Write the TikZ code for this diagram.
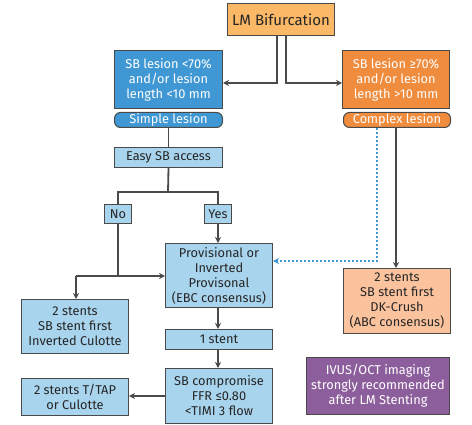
\documentclass[tikz,border=0pt]{standalone}
\usepackage{fontspec}
\setmainfont{Fira Sans}
\usetikzlibrary{arrows.meta,positioning}
\definecolor{lmorange}{HTML}{FBB867}
\definecolor{dblue}{HTML}{3F98D4}
\definecolor{dorange}{HTML}{F08C3E}
\definecolor{lblue}{HTML}{A9D4EE}
\definecolor{lorange}{HTML}{FAC39E}
\definecolor{purp}{HTML}{8D5E9C}
\definecolor{edge}{HTML}{4A4A4A}
\tikzset{
  box/.style={draw=edge, line width=1pt, align=center, inner sep=0pt, anchor=north west, font=\fontsize{12.8}{15}\selectfont, text=black!85},
  conn/.style={draw=edge, line width=1.8pt},
  arr/.style={conn, -{Stealth[length=6pt,width=6pt]}},
  dotarr/.style={draw=dblue, line width=1.5pt, dash pattern=on 2pt off 2pt, -{Stealth[length=6pt,width=6pt]}},
}
\begin{document}
\begin{tikzpicture}[x=1pt,y=-1pt]
\useasboundingbox (0,0) rectangle (472,425);
\node[box, fill=lmorange, minimum width=107pt, minimum height=32pt, font=\fontsize{15}{17}\selectfont] (lm) at (227,3) {LM Bifurcation};
\node[box, fill=dblue, text=white, minimum width=108pt, minimum height=58pt] (sbl) at (114,50) {SB lesion <70\%\\and/or lesion\\length <10 mm};
\node[box, fill=dorange, text=white, minimum width=107pt, minimum height=58pt] (sbr) at (342,50) {SB lesion ≥70\%\\and/or lesion\\length >10 mm};
\node[box, fill=dblue, text=white, rounded corners=6pt, minimum width=108pt, minimum height=15pt] (simple) at (114,112) {Simple lesion};
\node[box, fill=dorange, text=white, rounded corners=6pt, minimum width=107pt, minimum height=15pt] (complex) at (343,112) {Complex lesion};
\node[box, fill=lblue, minimum width=108pt, minimum height=20pt] (easy) at (114,147) {Easy SB access};
\node[box, fill=lblue, minimum width=27pt, minimum height=19pt] (no) at (104,204) {No};
\node[box, fill=lblue, minimum width=27pt, minimum height=19pt] (yes) at (204,204) {Yes};
\node[box, fill=lblue, minimum width=107pt, minimum height=64pt] (prov) at (165,243) {Provisional or\\Inverted\\Provisonal\\(EBC consensus)};
\node[box, fill=lblue, minimum width=107pt, minimum height=54pt] (inv) at (21,299) {2 stents\\SB stent first\\Inverted Culotte};
\node[box, fill=lblue, minimum width=107pt, minimum height=20pt] (one) at (165,329) {1 stent};
\node[box, fill=lblue, minimum width=107pt, minimum height=55pt] (comp) at (165,368) {SB compromise\\FFR ≤0.80\\<TIMI 3 flow};
\node[box, fill=lblue, minimum width=107pt, minimum height=37pt] (ttap) at (21,378) {2 stents T/TAP\\or Culotte};
\node[box, fill=lorange, minimum width=107pt, minimum height=65pt] (abc) at (343,268) {2 stents\\SB stent first\\DK-Crush\\(ABC consensus)};
\node[box, fill=purp, text=white, minimum width=143pt, minimum height=57pt] (ivus) at (306,357) {IVUS/OCT imaging\\strongly recommended\\after LM Stenting};
\coordinate (jn) at (76,276);
% connectors
\draw[arr] (lm.south -| 277,0) |- (sbl.east |- 0,83);
\draw[arr] (lm.south -| 286,0) |- (sbr.west |- 0,83);
\draw[conn] (simple.south) -- (easy.north);
\draw[conn] (easy.south) -- (168,192) -| (no.north);
\draw[conn] (168,192) -| (yes.north);
\draw[arr] (yes.south) -- (prov.north -| yes.south);
\draw[conn] (no.south) |- (jn);
\draw[arr] (no.south |- jn) -- (prov.west |- jn);
\draw[arr] (jn) -- (inv.north -| jn);
\draw[arr] (prov.south -| yes.south) -- (one.north -| yes.south);
\draw[arr] (one.south -| yes.south) -- (comp.north -| yes.south);
\draw[arr] (comp.west |- 0,396) -- (ttap.east |- 0,396);
\draw[arr] (complex.south -| 396,0) -- (abc.north -| 396,0);
\draw[dotarr] (complex.south -| 377,0) |- (prov.east |- 0,261);
\end{tikzpicture}
\end{document}
